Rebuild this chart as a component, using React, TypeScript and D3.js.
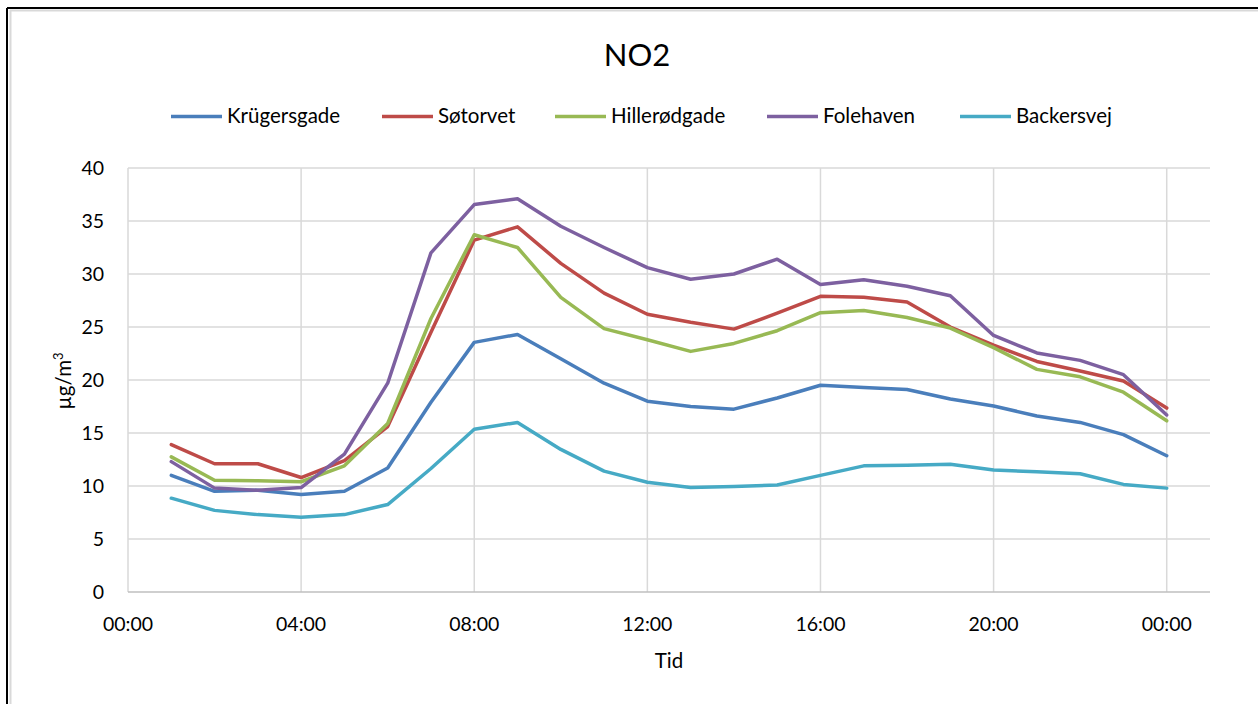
import React from "react";
import * as d3 from "d3";

const hours = [1,2,3,4,5,6,7,8,9,10,11,12,13,14,15,16,17,18,19,20,21,22,23,24];
const seriesNames = ["Krügersgade","Søtorvet","Hillerødgade","Folehaven","Backersvej"];
const krugersgade = [11.0,9.5,9.6,9.2,9.5,11.7,17.9,23.55,24.3,22.0,19.7,18.0,17.5,17.25,18.3,19.5,19.3,19.1,18.2,17.55,16.6,16.0,14.85,12.85];
const sotorvet = [13.9,12.1,12.1,10.8,12.4,15.6,24.5,33.2,34.45,31.0,28.2,26.2,25.45,24.8,26.3,27.9,27.8,27.35,25.0,23.3,21.75,20.85,19.9,17.35];
const hillerodgade = [12.75,10.55,10.5,10.4,11.9,15.9,25.8,33.7,32.5,27.8,24.85,23.8,22.7,23.45,24.65,26.35,26.55,25.9,24.9,23.05,21.0,20.3,18.85,16.15];
const folehaven = [12.3,9.8,9.6,9.85,13.0,19.7,32.0,36.55,37.1,34.5,32.5,30.6,29.5,30.0,31.4,29.0,29.45,28.85,27.95,24.2,22.55,21.85,20.5,16.7];
const backersvej = [8.85,7.7,7.3,7.05,7.3,8.25,11.65,15.35,16.0,13.45,11.4,10.35,9.85,9.95,10.1,11.0,11.9,11.95,12.05,11.5,11.35,11.15,10.15,9.8];
const seriesValues = [krugersgade, sotorvet, hillerodgade, folehaven, backersvej];
const colors = ["#4A7EBB","#BE4B48","#98B954","#7D60A0","#46AAC5"];
const xTicks = [0,4,8,12,16,20,24];
const xTickLabels = ["00:00","04:00","08:00","12:00","16:00","20:00","00:00"];
const yTicks = [0,5,10,15,20,25,30,35,40];

const legendX = [171, 382, 555, 767, 960];

export default function App() {
  const W = 1258, H = 704;
  const left = 128, right = 1210, top = 168, bottom = 592;
  const x = d3.scaleLinear().domain([0, 25]).range([left, right]);
  const y = d3.scaleLinear().domain([0, 40]).range([bottom, top]);
  const line = d3.line<number>().x((_, i) => x(hours[i])).y(d => y(d));
  const font = "Lato, 'Open Sans', sans-serif";
  return (
    <svg width={W} height={H} style={{ position: "absolute", left: 0, top: 0, background: "#fff" }} fontFamily={font}>
      <rect x={0} y={0} width={W} height={H} fill="#fff" />
      <line x1={10} y1={10.5} x2={W} y2={10.5} stroke="#d9d9d9" strokeWidth={2} />
      <line x1={10.5} y1={10} x2={10.5} y2={H} stroke="#d9d9d9" strokeWidth={2} />
      <line x1={7} y1={8} x2={W} y2={8} stroke="#000" strokeWidth={2} />
      <line x1={7} y1={8} x2={7} y2={H} stroke="#000" strokeWidth={2} />

      <text x={637} y={66} textAnchor="middle" fontSize={31} fill="#000">NO2</text>

      {seriesNames.map((n, i) => (
        <g key={n}>
          <line x1={legendX[i]} x2={legendX[i] + 51} y1={116.5} y2={116.5} stroke={colors[i]} strokeWidth={3.5} />
          <text x={legendX[i] + 56} y={123} fontSize={20.5} fill="#000">{n}</text>
        </g>
      ))}

      {yTicks.map(t => (
        <g key={"y" + t}>
          {t > 0 && <line x1={left} x2={right} y1={y(t)} y2={y(t)} stroke="#d9d9d9" strokeWidth={1.5} />}
          <text x={104} y={y(t) + 7} textAnchor="end" fontSize={19.5} fill="#000">{t}</text>
        </g>
      ))}
      {xTicks.map((t, i) => (
        <g key={"x" + t + i}>
          <line x1={x(t)} x2={x(t)} y1={top} y2={bottom} stroke="#d9d9d9" strokeWidth={1.5} />
          <text x={x(t)} y={631} textAnchor="middle" fontSize={19.5} fill="#000">{xTickLabels[i]}</text>
        </g>
      ))}
      <line x1={left} x2={right} y1={bottom} y2={bottom} stroke="#bfbfbf" strokeWidth={1.5} />

      {seriesValues.map((vals, i) => (
        <path key={i} d={line(vals) || ""} fill="none" stroke={colors[i]} strokeWidth={3.5} strokeLinejoin="round" strokeLinecap="round" />
      ))}

      <text x={669} y={668} textAnchor="middle" fontSize={20.5} fill="#000">Tid</text>
      <text transform="translate(71,381) rotate(-90)" textAnchor="middle" fontSize={20.5} fill="#000">
        µg/m<tspan dy={-8} fontSize={13}>3</tspan>
      </text>
    </svg>
  );
}
